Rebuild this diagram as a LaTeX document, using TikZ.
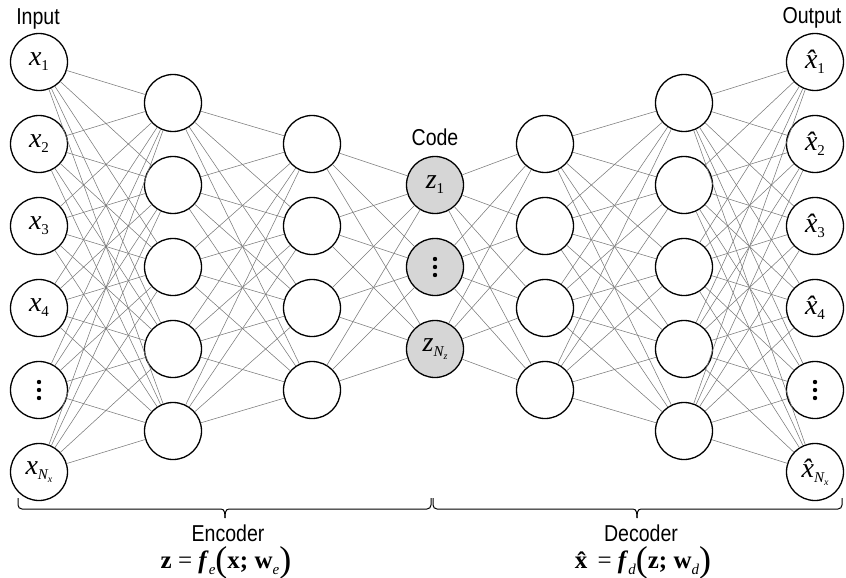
\documentclass[tikz,border=0pt]{standalone}
\usepackage{fontspec}
\usepackage{graphicx}
\setmainfont{Liberation Serif}
\newfontfamily\lab[FakeStretch=0.85]{Liberation Sans}
\usetikzlibrary{calc}
\newcommand\mx[2]{{\fontsize{28}{28}\selectfont\itshape #1}\raisebox{-5pt}{\fontsize{15}{15}\selectfont #2}}
\newcommand\subN[1]{{\itshape N}\raisebox{-3pt}{\fontsize{10}{10}\selectfont\itshape #1}}
\newcommand\sbs[1]{\raisebox{-6pt}{\fontsize{15}{15}\selectfont\itshape #1}}
\newcommand\bpar[1]{\raisebox{-3pt}{\fontsize{36}{36}\selectfont #1}}
\begin{document}
\begin{tikzpicture}[x=1pt,y=-1pt,
  neuron/.style={circle,draw=black,line width=1.3pt,minimum size=57pt,inner sep=0pt,fill=white},
  codeneuron/.style={neuron,fill=black!16},
  conn/.style={draw=black!52,line width=0.55pt},
  lbl/.style={font=\lab\fontsize{23}{24}\selectfont,inner sep=0pt},
  eqn/.style={font=\fontsize{25}{26}\selectfont,inner sep=0pt},
  brc/.style={line width=1pt}]
\useasboundingbox (0,0) rectangle (846,578);
% input layer
\node[neuron] (in1) at (39,62)  {\mx{x}{1}};
\node[neuron] (in2) at (39,144) {\mx{x}{2}};
\node[neuron] (in3) at (39,226) {\mx{x}{3}};
\node[neuron] (in4) at (39,308) {\mx{x}{4}};
\node[neuron] (in5) at (39,390) {};
\node[neuron] (in6) at (39,472) {\mx{x}{\subN{x}}};
% encoder hidden 1
\foreach \j/\y in {1/103,2/185,3/267,4/349,5/431}
  \node[neuron] (a\j) at (173,\y) {};
% encoder hidden 2
\foreach \j/\y in {1/144,2/226,3/308,4/390}
  \node[neuron] (b\j) at (312,\y) {};
% code
\node[codeneuron] (c1) at (435,185) {\mx{z}{1}};
\node[codeneuron] (c2) at (435,267) {};
\node[codeneuron] (c3) at (435,349) {\mx{z}{\subN{z}}};
% decoder hidden 1
\foreach \j/\y in {1/144,2/226,3/308,4/390}
  \node[neuron] (d\j) at (545,\y) {};
% decoder hidden 2
\foreach \j/\y in {1/103,2/185,3/267,4/349,5/431}
  \node[neuron] (e\j) at (684,\y) {};
% output
\node[neuron] (o1) at (815,62)  {\mx{\^{x}}{1}};
\node[neuron] (o2) at (815,144) {\mx{\^{x}}{2}};
\node[neuron] (o3) at (815,226) {\mx{\^{x}}{3}};
\node[neuron] (o4) at (815,308) {\mx{\^{x}}{4}};
\node[neuron] (o5) at (815,390) {};
\node[neuron] (o6) at (815,472) {\mx{\^{x}}{\subN{x}}};
% vertical dots
\foreach \n in {in5,c2,o5}{
  \fill (\n.center) ++(0,-8) circle (2.2);
  \fill (\n.center) circle (2.2);
  \fill (\n.center) ++(0,8) circle (2.2);
}
% connections
\foreach \i in {1,...,6} \foreach \j in {1,...,5} \draw[conn] (in\i) -- (a\j);
\foreach \i in {1,...,5} \foreach \j in {1,...,4} \draw[conn] (a\i) -- (b\j);
\foreach \i in {1,...,4} \foreach \j in {1,...,3} \draw[conn] (b\i) -- (c\j);
\foreach \i in {1,...,3} \foreach \j in {1,...,4} \draw[conn] (c\i) -- (d\j);
\foreach \i in {1,...,4} \foreach \j in {1,...,5} \draw[conn] (d\i) -- (e\j);
\foreach \i in {1,...,5} \foreach \j in {1,...,6} \draw[conn] (e\i) -- (o\j);
% labels
\node[lbl] (tin) at (38,19) {Input};
\node[lbl] (tout) at (812,18) {Output};
\node[lbl] (tcode) at (435,137) {Code};
% braces
\coordinate (bl) at (18,498);
\coordinate (bm1) at (431,498);
\coordinate (bm2) at (433,498);
\coordinate (br) at (842,498);
\coordinate (tipl) at (225,518);
\coordinate (tipr) at (637,518);
\draw[brc] (bl) -- ($(bl)+(0,7)$) to[out=-90,in=180] ($(bl)+(4,11)$) -- ($(tipl)+(-4,-9)$)
  to[out=0,in=90] (tipl);
\draw[brc] (tipl) to[out=90,in=180] ($(tipl)+(4,-9)$) -- ($(bm1)+(-4,11)$)
  to[out=0,in=-90] ($(bm1)+(0,7)$) -- (bm1);
\draw[brc] (bm2) -- ($(bm2)+(0,7)$) to[out=-90,in=180] ($(bm2)+(4,11)$) -- ($(tipr)+(-4,-9)$)
  to[out=0,in=90] (tipr);
\draw[brc] (tipr) to[out=90,in=180] ($(tipr)+(4,-9)$) -- ($(br)+(-4,11)$)
  to[out=0,in=-90] ($(br)+(0,7)$) -- (br);
\node[lbl] (tenc) at (228,533) {Encoder};
\node[lbl] (tdec) at (641,533) {Decoder};
\node[eqn] (eenc) at (226,563) {\textbf{z} = \textbf{\textit{f}}\sbs{e}\bpar{(}\textbf{x; w}\sbs{e}\bpar{)}};
\node[eqn] (edec) at (643,563) {\textbf{\^{x}} = \textbf{\textit{f}}\sbs{d}\bpar{(}\textbf{z; w}\sbs{d}\bpar{)}};
\end{tikzpicture}
\end{document}
